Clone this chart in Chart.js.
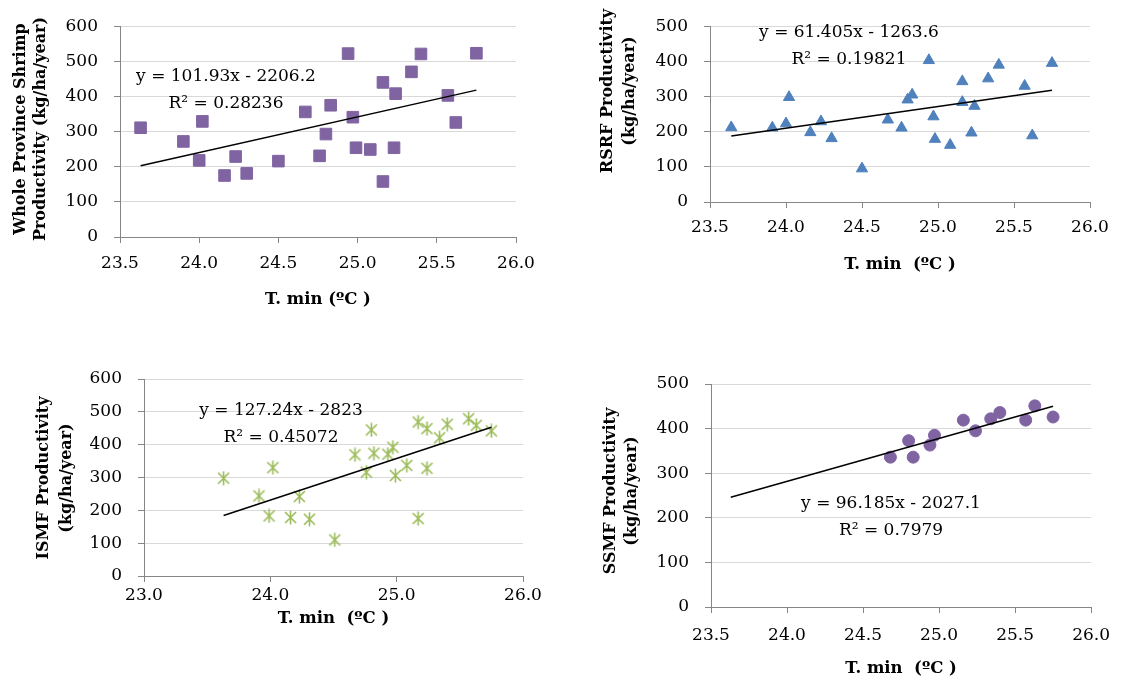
<!DOCTYPE html>
<html>
<head>
<meta charset="utf-8">
<script src="https://cdn.jsdelivr.net/npm/chart.js@4.4.1/dist/chart.umd.min.js"></script>
<style>
  html, body { margin: 0; padding: 0; background: #ffffff; }
  #page { position: relative; width: 1122px; height: 682px; }
  #page canvas { position: absolute; left: 0; top: 0; }
</style>
</head>
<body>
<div id="page">
  <canvas id="c1" width="1122" height="682"></canvas>
  <canvas id="c2" width="1122" height="682"></canvas>
  <canvas id="c3" width="1122" height="682"></canvas>
  <canvas id="c4" width="1122" height="682"></canvas>
</div>
<script>
// ===========================
// DATA
// ===========================

// Whole province
const tminWhole = [23.63, 23.90, 24.00, 24.02, 24.16, 24.23, 24.30, 24.50, 24.67, 24.76, 24.80, 24.83, 24.94,
  24.97, 24.99, 25.08, 25.16, 25.16, 25.23, 25.24, 25.34, 25.40, 25.57, 25.62, 25.75];
const prodWhole = [311, 272, 218, 329, 175, 229, 181, 216, 356, 231, 293, 375, 522,
  341, 254, 249, 440, 158, 254, 408, 470, 521, 403, 326, 523];
const trendWhole = [[23.63, 203], [25.75, 418]];

// RSRF
const tminRSRF = [23.64, 23.91, 24.00, 24.02, 24.16, 24.23, 24.30, 24.50, 24.67, 24.76, 24.80, 24.83, 24.94,
  24.97, 24.98, 25.08, 25.16, 25.16, 25.22, 25.24, 25.33, 25.40, 25.57, 25.62, 25.75];
const prodRSRF = [212, 211, 223, 298, 198, 229, 181, 95, 234, 211, 291, 305, 403,
  243, 179, 162, 343, 284, 197, 273, 351, 390, 330, 189, 395];
const trendRSRF = [[23.64, 188], [25.75, 318]];

// ISMF
const tminISMF = [23.63, 23.91, 23.99, 24.02, 24.16, 24.23, 24.31, 24.51, 24.67, 24.76, 24.80, 24.82, 24.93,
  24.97, 24.99, 25.08, 25.17, 25.17, 25.24, 25.24, 25.34, 25.40, 25.57, 25.63, 25.75];
const prodISMF = [298, 244, 183, 330, 178, 242, 173, 110, 369, 316, 445, 374, 371,
  392, 306, 337, 469, 175, 328, 449, 421, 462, 479, 459, 442];
const trendISMF = [[23.63, 184], [25.75, 453]];

// SSMF
const tminSSMF = [24.68, 24.80, 24.83, 24.94, 24.97, 25.16, 25.24, 25.34, 25.40, 25.57, 25.63, 25.75];
const prodSSMF = [336, 373, 336, 363, 385, 419, 395, 422, 436, 419, 451, 426];
const trendSSMF = [[23.63, 246], [25.75, 450]];

// ===========================
// STYLE
// ===========================

const FONT = "DejaVu Serif";
const AXIS = "#868686";
const GRID = "#d9d9d9";
const Y_AXIS_W = 60;
const X_AXIS_H = 40;

// asterisk marker like the spreadsheet one (X + vertical bar)
function makeStar(color) {
  const c = document.createElement("canvas");
  c.width = 15;
  c.height = 15;
  const g = c.getContext("2d");
  g.strokeStyle = color;
  g.lineWidth = 1.6;
  g.beginPath();
  g.moveTo(2, 2); g.lineTo(13, 13);
  g.moveTo(13, 2); g.lineTo(2, 13);
  g.moveTo(7.5, 0.5); g.lineTo(7.5, 14.5);
  g.stroke();
  return c;
}

// ===========================
// PANELS (plot boxes in page pixels)
// ===========================

const panels = [
  {
    id: "c1", x: tminWhole, y: prodWhole, trend: trendWhole,
    color: "#8064a2", marker: "rect", radius: 8.2,
    box: { left: 120, right: 516, top: 16, bottom: 237 },
    xMin: 23.5, xMax: 26, xStep: 0.5, yMax: 600, xPad: 10,
    yTitle: { lines: ["Whole Province Shrimp", "Productivity (kg/ha/year)"], x: 21, y: 129, gap: 20 },
    xTitle: { text: "T. min (ºC )", y: 300 },
    eq: { lines: ["y = 101.93x - 2206.2", "R² = 0.28236"], x: 226, y: 77 }
  },
  {
    id: "c2", x: tminRSRF, y: prodRSRF, trend: trendRSRF,
    color: "#4f81bd", marker: "triangle", radius: 6.5,
    box: { left: 710, right: 1090, top: 16, bottom: 202 },
    xMin: 23.5, xMax: 26, xStep: 0.5, yMax: 500, xPad: 9,
    yTitle: { lines: ["RSRF Productivity", "(kg/ha/year)"], x: 608, y: 91, gap: 22 },
    xTitle: { text: "T. min  (ºC )", y: 265 },
    eq: { lines: ["y = 61.405x - 1263.6", "R² = 0.19821"], x: 849, y: 33 }
  },
  {
    id: "c3", x: tminISMF, y: prodISMF, trend: trendISMF,
    color: "#9bbb59", marker: makeStar("#9bbb59"), radius: 7,
    box: { left: 144, right: 523, top: 379, bottom: 576 },
    xMin: 23, xMax: 26, xStep: 1, yMax: 600, xPad: 3,
    yTitle: { lines: ["ISMF Productivity", "(kg/ha/year)"], x: 44, y: 478, gap: 23 },
    xTitle: { text: "T. min  (ºC )", y: 619 },
    eq: { lines: ["y = 127.24x - 2823", "R² = 0.45072"], x: 281, y: 411 }
  },
  {
    id: "c4", x: tminSSMF, y: prodSSMF, trend: trendSSMF,
    color: "#8064a2", marker: "circle", radius: 6,
    box: { left: 711, right: 1092, top: 384, bottom: 607 },
    xMin: 23.5, xMax: 26, xStep: 0.5, yMax: 500, xPad: 12,
    yTitle: { lines: ["SSMF Productivity", "(kg/ha/year)"], x: 611, y: 491, gap: 21 },
    xTitle: { text: "T. min  (ºC )", y: 669 },
    eq: { lines: ["y = 96.185x - 2027.1", "R² = 0.7979"], x: 891, y: 504 }
  }
];

// ===========================
// TEXT PLUGIN (axis titles + trend equation)
// ===========================

function textPlugin(p) {
  return {
    id: "panelText",
    afterDraw(chart) {
      const ctx = chart.ctx;
      const area = chart.chartArea;
      ctx.save();
      ctx.fillStyle = "#000";
      ctx.textAlign = "center";
      ctx.textBaseline = "middle";

      // y title, rotated
      ctx.font = "bold 16px '" + FONT + "'";
      p.yTitle.lines.forEach((line, i) => {
        ctx.save();
        ctx.translate(p.yTitle.x + i * p.yTitle.gap, p.yTitle.y);
        ctx.rotate(-Math.PI / 2);
        ctx.fillText(line, 0, 0);
        ctx.restore();
      });

      // x title
      ctx.font = "bold 16.5px '" + FONT + "'";
      ctx.fillText(p.xTitle.text, (area.left + area.right) / 2, p.xTitle.y);

      // trend equation
      ctx.font = "17px '" + FONT + "'";
      p.eq.lines.forEach((line, i) => {
        ctx.fillText(line, p.eq.x, p.eq.y + i * 27);
      });
      ctx.restore();
    }
  };
}

// ===========================
// BUILD ONE PANEL
// ===========================

function makePanel(p) {
  const points = p.x.map((v, i) => ({ x: v, y: p.y[i] }));
  const trend = p.trend.map((t) => ({ x: t[0], y: t[1] }));
  const tickFont = { family: FONT, size: 17 };

  new Chart(document.getElementById(p.id), {
    type: "scatter",
    data: {
      datasets: [
        {
          data: trend,
          showLine: true,
          borderColor: "#000000",
          borderWidth: 1.5,
          pointRadius: 0
        },
        {
          data: points,
          pointStyle: p.marker,
          pointRadius: p.radius,
          pointHoverRadius: p.radius,
          backgroundColor: p.color,
          borderColor: p.color,
          borderWidth: 1
        }
      ]
    },
    options: {
      responsive: false,
      animation: false,
      layout: {
        padding: {
          left: p.box.left - Y_AXIS_W,
          top: p.box.top,
          right: 1122 - p.box.right,
          bottom: 682 - p.box.bottom - X_AXIS_H
        }
      },
      plugins: {
        legend: { display: false },
        tooltip: { enabled: false }
      },
      scales: {
        x: {
          type: "linear",
          min: p.xMin,
          max: p.xMax,
          afterFit: (s) => { s.height = X_AXIS_H; },
          ticks: {
            stepSize: p.xStep,
            autoSkip: false,
            maxRotation: 0,
            padding: p.xPad,
            color: "#000",
            font: tickFont,
            callback: (v) => Number(v).toFixed(1)
          },
          grid: { drawOnChartArea: false, tickLength: 6, color: AXIS, tickColor: AXIS },
          border: { color: AXIS, width: 1 }
        },
        y: {
          min: 0,
          max: p.yMax,
          afterFit: (s) => { s.width = Y_AXIS_W; },
          ticks: {
            stepSize: 100,
            padding: 16,
            color: "#000",
            font: tickFont
          },
          grid: {
            color: (c) => (c.tick && c.tick.value === 0 ? "rgba(0,0,0,0)" : GRID),
            tickColor: AXIS,
            tickLength: 6
          },
          border: { color: AXIS, width: 1 }
        }
      }
    },
    plugins: [textPlugin(p)]
  });
}

panels.forEach(makePanel);
</script>
</body>
</html>
